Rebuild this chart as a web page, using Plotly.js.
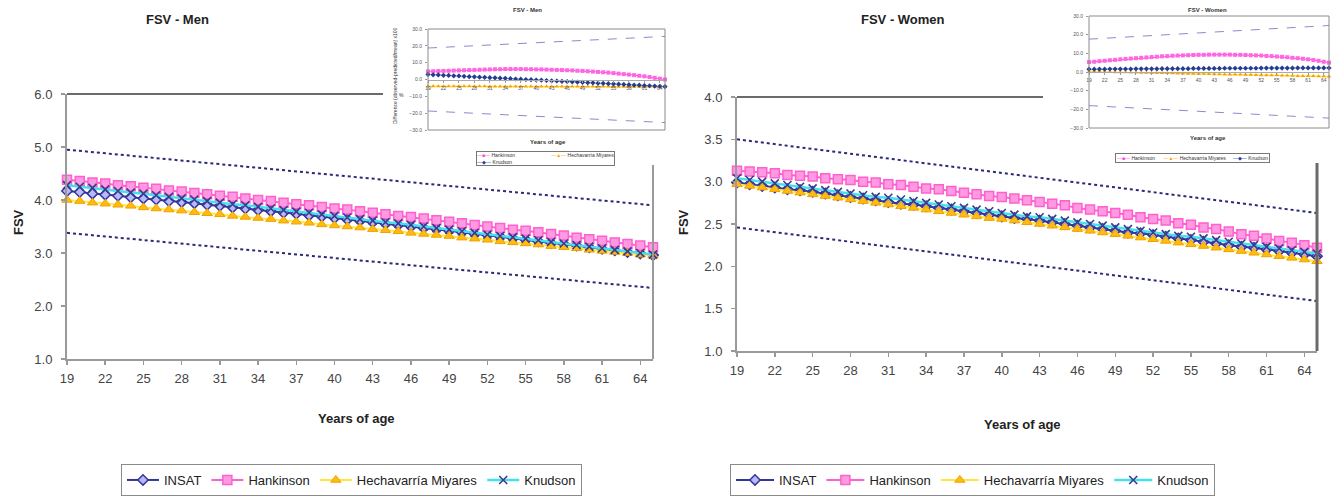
<!DOCTYPE html>
<html>
<head>
<meta charset="utf-8">
<script src="https://cdn.plot.ly/plotly-3.0.1.min.js"></script>
<style>html,body{margin:0;padding:0;background:#fff;}#chart{width:1333px;height:503px;}</style>
</head>
<body>
<div id="chart"></div>
<script>
// ---------- data ----------
const ages = [19,20,21,22,23,24,25,26,27,28,29,30,31,32,33,34,35,36,37,38,39,40,41,42,43,44,45,46,47,48,49,50,51,52,53,54,55,56,57,58,59,60,61,62,63,64,65];
const ageTicks = [19,22,25,28,31,34,37,40,43,46,49,52,55,58,61,64];
const limitAges = [19,65];
const seriesNames = ['INSAT','Hankinson','Hechavarría Miyares','Knudson'];

// FSV - Men (main chart)
const menINSAT = [4.17,4.15,4.12,4.10,4.08,4.05,4.03,4.01,3.98,3.96,3.94,3.91,3.89,3.86,3.84,3.81,3.79,3.76,3.74,3.71,3.69,3.66,3.63,3.61,3.58,3.55,3.53,3.50,3.47,3.45,3.42,3.39,3.36,3.34,3.31,3.28,3.25,3.22,3.19,3.17,3.14,3.11,3.08,3.05,3.02,2.99,2.96];
const menHankinson = [4.38,4.36,4.33,4.31,4.28,4.26,4.23,4.21,4.18,4.16,4.13,4.11,4.08,4.06,4.03,4.00,3.98,3.95,3.92,3.90,3.87,3.84,3.82,3.79,3.76,3.73,3.70,3.68,3.65,3.62,3.59,3.56,3.53,3.50,3.47,3.44,3.42,3.39,3.36,3.33,3.29,3.26,3.23,3.20,3.17,3.14,3.11];
const menHechavarria = [4.00,3.98,3.95,3.93,3.91,3.89,3.86,3.84,3.82,3.80,3.77,3.75,3.73,3.70,3.68,3.66,3.64,3.61,3.59,3.57,3.54,3.52,3.50,3.48,3.45,3.43,3.41,3.38,3.36,3.34,3.32,3.29,3.27,3.25,3.22,3.20,3.18,3.16,3.13,3.11,3.09,3.06,3.04,3.02,3.00,2.97,2.95];
const menKnudson = [4.28,4.25,4.23,4.20,4.17,4.14,4.12,4.09,4.06,4.03,4.01,3.98,3.95,3.92,3.90,3.87,3.84,3.81,3.78,3.76,3.73,3.70,3.67,3.64,3.61,3.58,3.56,3.53,3.50,3.47,3.44,3.41,3.38,3.35,3.32,3.30,3.27,3.24,3.21,3.18,3.15,3.12,3.09,3.06,3.03,3.00,2.97];
const menUpper = [4.95,3.90];
const menLower = [3.38,2.34];

// FSV - Women (main chart)
const womINSAT = [2.99,2.97,2.95,2.93,2.91,2.90,2.88,2.86,2.84,2.82,2.80,2.78,2.76,2.74,2.73,2.71,2.69,2.67,2.65,2.63,2.61,2.59,2.57,2.56,2.54,2.52,2.50,2.48,2.46,2.44,2.42,2.40,2.39,2.37,2.35,2.33,2.31,2.29,2.27,2.25,2.23,2.22,2.20,2.18,2.16,2.14,2.12];
const womHankinson = [3.13,3.12,3.11,3.10,3.08,3.07,3.06,3.04,3.03,3.02,3.00,2.99,2.97,2.96,2.94,2.92,2.91,2.89,2.87,2.85,2.83,2.82,2.80,2.78,2.76,2.74,2.72,2.69,2.67,2.65,2.63,2.61,2.58,2.56,2.54,2.51,2.49,2.46,2.44,2.41,2.38,2.36,2.33,2.30,2.28,2.25,2.22];
const womHechavarria = [2.97,2.95,2.93,2.91,2.89,2.87,2.85,2.83,2.81,2.79,2.77,2.75,2.73,2.71,2.69,2.67,2.65,2.63,2.61,2.59,2.57,2.56,2.54,2.52,2.50,2.48,2.46,2.44,2.42,2.40,2.38,2.36,2.34,2.32,2.30,2.28,2.26,2.24,2.22,2.20,2.18,2.16,2.14,2.12,2.10,2.08,2.06];
const womKnudson = [3.04,3.02,3.00,2.98,2.96,2.94,2.92,2.90,2.88,2.86,2.84,2.82,2.81,2.79,2.77,2.75,2.73,2.71,2.69,2.67,2.65,2.63,2.61,2.59,2.58,2.56,2.54,2.52,2.50,2.48,2.46,2.44,2.42,2.40,2.38,2.36,2.35,2.33,2.31,2.29,2.27,2.25,2.23,2.21,2.19,2.17,2.15];
const womUpper = [3.50,2.63];
const womLower = [2.46,1.59];

// Insets: difference (%)
const insMenHankinson = [4.8,4.9,5.0,5.1,5.2,5.3,5.4,5.5,5.6,5.7,5.8,5.9,6.0,6.1,6.1,6.2,6.2,6.2,6.2,6.1,6.1,6.0,6.0,5.9,5.8,5.7,5.6,5.5,5.4,5.2,5.1,4.9,4.7,4.5,4.3,4.1,3.8,3.5,3.2,2.9,2.6,2.2,1.9,1.5,1.0,0.5,0.0];
const insMenKnudson = [3.0,2.8,2.7,2.5,2.4,2.2,2.1,1.9,1.7,1.6,1.4,1.3,1.1,1.0,0.8,0.7,0.5,0.3,0.2,0.0,-0.1,-0.3,-0.4,-0.6,-0.8,-0.9,-1.1,-1.2,-1.4,-1.5,-1.7,-1.9,-2.0,-2.2,-2.3,-2.5,-2.6,-2.8,-2.9,-3.1,-3.3,-3.4,-3.6,-3.7,-3.9,-4.0,-4.2];
const insMenHechavarria = [-4.0,-4.0,-4.0,-4.0,-4.0,-4.0,-4.0,-4.0,-4.0,-4.0,-4.0,-4.0,-4.1,-4.1,-4.1,-4.1,-4.1,-4.1,-4.1,-4.1,-4.1,-4.1,-4.1,-4.1,-4.2,-4.2,-4.2,-4.2,-4.2,-4.2,-4.2,-4.2,-4.2,-4.2,-4.2,-4.2,-4.3,-4.3,-4.3,-4.3,-4.3,-4.3,-4.3,-4.3,-4.3,-4.3,-4.3];
const insMenUpper = [18.7,25.6];
const insMenLower = [-18.7,-25.6];

const insWomHankinson = [5.3,5.5,5.8,6.0,6.3,6.5,6.8,7.0,7.2,7.4,7.6,7.8,8.0,8.2,8.4,8.5,8.7,8.8,8.9,9.0,9.1,9.2,9.2,9.3,9.3,9.3,9.3,9.3,9.2,9.2,9.1,9.0,8.9,8.8,8.6,8.5,8.3,8.1,7.9,7.6,7.4,7.1,6.8,6.4,6.0,5.5,5.0];
const insWomKnudson = [1.5,1.5,1.5,1.5,1.6,1.6,1.6,1.6,1.6,1.7,1.7,1.7,1.7,1.7,1.8,1.8,1.8,1.8,1.8,1.8,1.9,1.9,1.9,1.9,1.9,1.9,2.0,2.0,2.0,2.0,2.0,2.0,2.0,2.1,2.1,2.1,2.1,2.1,2.1,2.1,2.2,2.2,2.2,2.2,2.2,2.2,2.2];
const insWomHechavarria = [0.2,0.1,0.1,0.0,0.0,-0.1,-0.1,-0.2,-0.3,-0.3,-0.4,-0.4,-0.5,-0.5,-0.6,-0.6,-0.7,-0.8,-0.8,-0.9,-0.9,-1.0,-1.0,-1.1,-1.2,-1.2,-1.3,-1.3,-1.4,-1.4,-1.5,-1.5,-1.6,-1.7,-1.7,-1.8,-1.8,-1.9,-1.9,-2.0,-2.1,-2.1,-2.2,-2.2,-2.3,-2.3,-2.4];
const insWomUpper = [17.6,24.9];
const insWomLower = [-18.0,-24.7];
const insTicks = [-30,-20,-10,0,10,20,30];

// ---------- styles ----------
const FONT = 'Liberation Sans, Arial, sans-serif';
const W = 1333, H = 503;
const px = v => v / W;
const py = v => 1 - v / H;

const C = {
  insatLine: '#34349c', insatFill: '#b8b8ff',
  hankLine: '#ff5fd0', hankFill: '#ff9ae0',
  hechLine: '#ffe83a', hechFill: '#ffbb10', hechEdge: '#f0a000',
  knudLine: '#45e0f0', knudMark: '#3a3a8c',
  limit: '#2a2a78', insLimit: '#8a8ad0'
};

function mainTraces(xa, ya, leg, ins, hank, hech, knud, up, lo) {
  const base = {x: ages, xaxis: xa, yaxis: ya, mode: 'lines+markers', legend: leg, cliponaxis: false, hoverinfo: 'skip'};
  return [
    {x: limitAges, y: up, xaxis: xa, yaxis: ya, mode: 'lines', showlegend: false, line: {color: C.limit, width: 2, dash: 'dot'}, hoverinfo: 'skip'},
    {x: limitAges, y: lo, xaxis: xa, yaxis: ya, mode: 'lines', showlegend: false, line: {color: C.limit, width: 2, dash: 'dot'}, hoverinfo: 'skip'},
    Object.assign({}, base, {y: ins, name: seriesNames[0], line: {color: C.insatLine, width: 2}, marker: {symbol: 'diamond', size: 8, color: C.insatFill, line: {color: C.insatLine, width: 1.5}}}),
    Object.assign({}, base, {y: hank, name: seriesNames[1], line: {color: C.hankLine, width: 2}, marker: {symbol: 'square', size: 9, color: C.hankFill, line: {color: C.hankLine, width: 1.5}}}),
    Object.assign({}, base, {y: hech, name: seriesNames[2], line: {color: C.hechLine, width: 2}, marker: {symbol: 'triangle-up', size: 9, color: C.hechFill, line: {color: C.hechEdge, width: 1}}}),
    Object.assign({}, base, {y: knud, name: seriesNames[3], line: {color: C.knudLine, width: 2.5}, marker: {symbol: 'x-thin-open', size: 8, color: C.knudMark, line: {color: C.knudMark, width: 1.6}}})
  ];
}

function insetTraces(xa, ya, hank, hech, knud, up, lo) {
  const base = {x: ages, xaxis: xa, yaxis: ya, mode: 'lines+markers', showlegend: false, cliponaxis: false, hoverinfo: 'skip'};
  return [
    {x: limitAges, y: up, xaxis: xa, yaxis: ya, mode: 'lines', showlegend: false, line: {color: C.insLimit, width: 1, dash: 'dash'}, hoverinfo: 'skip'},
    {x: limitAges, y: lo, xaxis: xa, yaxis: ya, mode: 'lines', showlegend: false, line: {color: C.insLimit, width: 1, dash: 'dash'}, hoverinfo: 'skip'},
    Object.assign({}, base, {y: hank, line: {color: '#ff44dd', width: 1}, marker: {symbol: 'square', size: 4, color: '#ff66e0'}}),
    Object.assign({}, base, {y: hech, line: {color: '#ffe000', width: 1}, marker: {symbol: 'triangle-up', size: 4, color: '#ffa000'}}),
    Object.assign({}, base, {y: knud, line: {color: '#66e0f0', width: 1}, marker: {symbol: 'diamond', size: 4, color: '#2a3a90'}})
  ];
}

const data = [].concat(
  mainTraces('x', 'y', 'legend', menINSAT, menHankinson, menHechavarria, menKnudson, menUpper, menLower),
  mainTraces('x2', 'y2', 'legend2', womINSAT, womHankinson, womHechavarria, womKnudson, womUpper, womLower),
  insetTraces('x3', 'y3', insMenHankinson, insMenHechavarria, insMenKnudson, insMenUpper, insMenLower),
  insetTraces('x4', 'y4', insWomHankinson, insWomHechavarria, insWomKnudson, insWomUpper, insWomLower)
);

function mainX(domain, anchor) {
  return {domain: domain, anchor: anchor, range: [19, 65], tickvals: ageTicks, ticks: 'outside', ticklen: 4, tickwidth: 1.5,
    tickcolor: '#999', showline: true, linecolor: '#9a9a9a', linewidth: 2, showgrid: false, zeroline: false,
    tickfont: {family: FONT, size: 13, color: '#444'}, ticklabelstandoff: 2};
}
function mainY(domain, anchor, range, vals) {
  return {domain: domain, anchor: anchor, range: range, tickvals: vals, tickformat: '.1f', ticks: 'outside', ticklen: 4, tickwidth: 1.5,
    tickcolor: '#999', showline: true, linecolor: '#9a9a9a', linewidth: 2, showgrid: false, zeroline: false,
    tickfont: {family: FONT, size: 13, color: '#444'}, ticklabelstandoff: 6};
}
function insX(domain, pos) {
  return {domain: domain, anchor: 'free', position: pos, range: [19, 65], tickvals: ageTicks, ticks: 'outside', ticklen: 2, tickwidth: 1,
    tickcolor: '#999', showline: true, linecolor: '#aaa', linewidth: 1, showgrid: false, zeroline: false,
    tickfont: {family: FONT, size: 5, color: '#555'}, ticklabelstandoff: 1};
}
function insY(domain, anchor) {
  return {domain: domain, anchor: anchor, range: [-30, 30], tickvals: insTicks, tickformat: '.1f', ticks: 'outside', ticklen: 2, tickwidth: 1,
    tickcolor: '#999', showline: false, showgrid: false, zeroline: false,
    tickfont: {family: FONT, size: 5, color: '#555'}, ticklabelstandoff: 2};
}

const legendBase = {orientation: 'h', xanchor: 'left', yanchor: 'top', bordercolor: '#8a8a8a', borderwidth: 1, bgcolor: '#fff',
  font: {family: FONT, size: 13, color: '#222'}, itemwidth: 32};

const ann = (x, y, text, opts) => Object.assign({xref: 'paper', yref: 'paper', x: px(x), y: py(y), text: text, showarrow: false,
  xanchor: 'center', yanchor: 'middle', font: {family: FONT, size: 13, color: '#222'}}, opts || {});

const insLegMen = "<span style='color:#ff44dd'>—■—</span> Hankinson" + "&nbsp;".repeat(26) +
  "<span style='color:#ffa000'>—▲—</span> Hechavarría Miyares<br>" +
  "<span style='color:#2a3a90'>—◆—</span> Knudson" + "&nbsp;".repeat(60);
const insLegWom = "<span style='color:#ff44dd'>—■—</span> Hankinson&nbsp;&nbsp;&nbsp;&nbsp;&nbsp;&nbsp;" +
  "<span style='color:#ffa000'>—▲—</span> Hechavarría Miyares&nbsp;&nbsp;&nbsp;&nbsp;&nbsp;" +
  "<span style='color:#2a3a90'>—◆—</span> Knudson";

const layout = {
  width: W, height: H, margin: {l: 0, r: 0, t: 0, b: 0}, paper_bgcolor: '#fff', plot_bgcolor: 'rgba(0,0,0,0)',
  font: {family: FONT}, hovermode: false,
  xaxis: mainX([px(67), px(653)], 'y'),
  yaxis: mainY([py(359), py(94)], 'x', [1, 6], [1, 2, 3, 4, 5, 6]),
  xaxis2: mainX([px(737), px(1317)], 'y2'),
  yaxis2: mainY([py(351), py(97)], 'x2', [1, 4], [1, 1.5, 2, 2.5, 3, 3.5, 4]),
  xaxis3: insX([px(428), px(665)], py(79.5)),
  yaxis3: insY([py(130), py(29)], 'x3'),
  xaxis4: insX([px(1089), px(1329)], py(72)),
  yaxis4: insY([py(128), py(16)], 'x4'),
  legend: Object.assign({}, legendBase, {x: px(121), y: py(464)}),
  legend2: Object.assign({}, legendBase, {x: px(730), y: py(464), itemwidth: 38}),
  shapes: [
    // partial plot-area borders of the main charts (rest hidden by the inset pictures)
    {type: 'line', xref: 'paper', yref: 'paper', x0: px(67), x1: px(383), y0: py(94), y1: py(94), line: {color: '#6a6a6a', width: 2}},
    {type: 'line', xref: 'paper', yref: 'paper', x0: px(653), x1: px(653), y0: py(165), y1: py(359), line: {color: '#9a9a9a', width: 2}},
    {type: 'line', xref: 'paper', yref: 'paper', x0: px(737), x1: px(1043), y0: py(97), y1: py(97), line: {color: '#6a6a6a', width: 2}},
    {type: 'line', xref: 'paper', yref: 'paper', x0: px(1317), x1: px(1317), y0: py(163), y1: py(351), line: {color: '#6a6a6a', width: 3}},
    // inset frames
    {type: 'rect', xref: 'x3 domain', yref: 'y3 domain', x0: 0, x1: 1, y0: 0, y1: 1, line: {color: '#8a8a8a', width: 1}},
    {type: 'rect', xref: 'x4 domain', yref: 'y4 domain', x0: 0, x1: 1, y0: 0, y1: 1, line: {color: '#8a8a8a', width: 1}}
  ],
  annotations: [
    ann(178, 20, '<b>FSV - Men</b>'),
    ann(903, 20, '<b>FSV - Women</b>'),
    ann(18, 222, '<b>FSV</b>', {textangle: -90}),
    ann(683, 222, '<b>FSV</b>', {textangle: -90}),
    ann(357, 418, '<b>Years of age</b>'),
    ann(1022, 424, '<b>Years of age</b>'),
    ann(527, 10, '<b>FSV - Men</b>', {font: {family: FONT, size: 6, color: '#333'}}),
    ann(1207, 10, '<b>FSV - Women</b>', {font: {family: FONT, size: 6, color: '#333'}}),
    ann(548, 142, '<b>Years of age</b>', {font: {family: FONT, size: 6, color: '#333'}}),
    ann(1208, 138, '<b>Years of age</b>', {font: {family: FONT, size: 6, color: '#333'}}),
    ann(395, 75, 'Difference (observed-predicted/mean) x100', {textangle: -90, font: {family: FONT, size: 5, color: '#333'}}),
    ann(401, 95, '%', {font: {family: FONT, size: 5, color: '#333'}}),
    ann(545, 159, insLegMen, {align: 'left', bordercolor: '#777', borderwidth: 1, borderpad: 0, bgcolor: '#fff', font: {family: FONT, size: 5, color: '#333'}}),
    ann(1192, 157.5, insLegWom, {align: 'left', bordercolor: '#777', borderwidth: 1, borderpad: 1, bgcolor: '#fff', font: {family: FONT, size: 5, color: '#333'}})
  ]
};

Plotly.newPlot('chart', data, layout, {displayModeBar: false, staticPlot: true});
</script>
</body>
</html>
